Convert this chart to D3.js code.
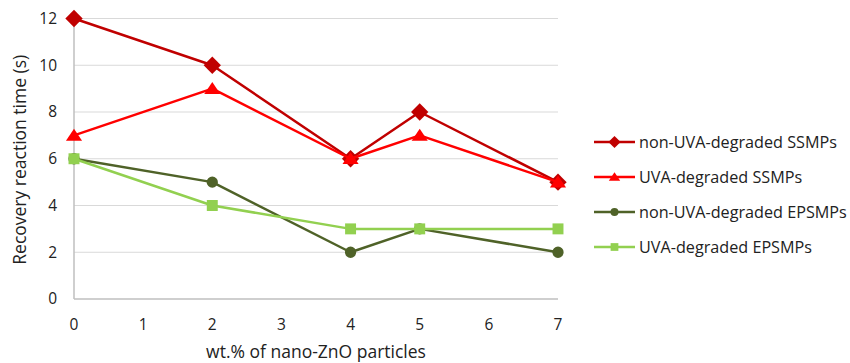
<!DOCTYPE html>
<html>
<head>
<meta charset="utf-8">
<script src="https://cdn.jsdelivr.net/npm/d3@7"></script>
<style>
  html, body { margin: 0; padding: 0; background: #fff; }
  svg text { font-family: "Open Sans", "Liberation Sans", sans-serif; fill: #222; }
</style>
</head>
<body>
<svg id="chart" width="850" height="363"></svg>
<script>
// wt.% of nano-ZnO particles
const xValues = [0, 2, 4, 5, 7];
const xTicks = [0, 1, 2, 3, 4, 5, 6, 7];
const yTicks = [0, 2, 4, 6, 8, 10, 12];

// Recovery reaction time (s) for each sample series
const seriesNames = [
  "non-UVA-degraded SSMPs",
  "UVA-degraded SSMPs",
  "non-UVA-degraded EPSMPs",
  "UVA-degraded EPSMPs"
];
const nonUvaSSMPs = [12, 10, 6, 8, 5];
const uvaSSMPs = [7, 9, 6, 7, 5];
const nonUvaEPSMPs = [6, 5, 2, 3, 2];
const uvaEPSMPs = [6, 4, 3, 3, 3];

const seriesColors = ["#C00000", "#FF0000", "#4F6228", "#92D050"];
const seriesData = [nonUvaSSMPs, uvaSSMPs, nonUvaEPSMPs, uvaEPSMPs];

// marker shapes: diamond is a square turned 45 degrees
const diamond = {
  draw(ctx, size) {
    const r = Math.sqrt(size / 2);
    ctx.moveTo(0, -r); ctx.lineTo(r, 0); ctx.lineTo(0, r); ctx.lineTo(-r, 0); ctx.closePath();
  }
};
const triangle = {
  draw(ctx, size) {
    const h = Math.sqrt(size * 0.75);
    const w = h * 1.35;
    ctx.moveTo(0, -h * 0.55); ctx.lineTo(w / 2, h * 0.45); ctx.lineTo(-w / 2, h * 0.45); ctx.closePath();
  }
};
const seriesSymbols = [diamond, triangle, d3.symbolCircle, d3.symbolSquare];
const seriesSymbolSizes = [150, 190, 100, 120];

const svg = d3.select("#chart");
const margin = { left: 74, right: 292, top: 18.5, bottom: 64 };
const width = 850, height = 363;

const x = d3.scaleLinear().domain([0, 7]).range([margin.left, width - margin.right]);
const y = d3.scaleLinear().domain([0, 12]).range([height - margin.bottom, margin.top]);

// horizontal gridlines
svg.append("g")
  .selectAll("line")
  .data(yTicks.filter(t => t > 0))
  .join("line")
  .attr("x1", x(0)).attr("x2", x(7))
  .attr("y1", d => y(d)).attr("y2", d => y(d))
  .attr("stroke", "#D9D9D9").attr("stroke-width", 1);

// axes lines
svg.append("line")
  .attr("x1", x(0)).attr("x2", x(0))
  .attr("y1", y(0)).attr("y2", y(12))
  .attr("stroke", "#BFBFBF").attr("stroke-width", 1.5);
svg.append("line")
  .attr("x1", x(0)).attr("x2", x(7))
  .attr("y1", y(0)).attr("y2", y(0))
  .attr("stroke", "#BFBFBF").attr("stroke-width", 1.5);

// y tick labels
svg.append("g")
  .selectAll("text")
  .data(yTicks)
  .join("text")
  .attr("x", x(0) - 17)
  .attr("y", d => y(d))
  .attr("dy", "0.35em")
  .attr("text-anchor", "end")
  .attr("font-size", 15.5)
  .text(d => d);

// x tick labels
svg.append("g")
  .selectAll("text")
  .data(xTicks)
  .join("text")
  .attr("x", d => x(d))
  .attr("y", 330)
  .attr("text-anchor", "middle")
  .attr("font-size", 15.5)
  .text(d => d);

// axis titles
svg.append("text")
  .attr("x", x(3.5))
  .attr("y", 358)
  .attr("text-anchor", "middle")
  .attr("font-size", 17.5)
  .text("wt.% of nano-ZnO particles");

svg.append("text")
  .attr("transform", `translate(26, ${(y(0) + y(12)) / 2 + 1}) rotate(-90)`)
  .attr("text-anchor", "middle")
  .attr("font-size", 17.5)
  .text("Recovery reaction time (s)");

// series lines and markers
const line = d3.line()
  .x((d, i) => x(xValues[i]))
  .y(d => y(d));

seriesData.forEach((vals, s) => {
  const g = svg.append("g");
  g.append("path")
    .datum(vals)
    .attr("d", line)
    .attr("fill", "none")
    .attr("stroke", seriesColors[s])
    .attr("stroke-width", 2.5)
    .attr("stroke-linejoin", "round");
  g.selectAll("path.marker")
    .data(vals)
    .join("path")
    .attr("class", "marker")
    .attr("transform", (d, i) => `translate(${x(xValues[i])},${y(d)})`)
    .attr("d", d3.symbol().type(seriesSymbols[s]).size(seriesSymbolSizes[s]))
    .attr("fill", seriesColors[s]);
});

// legend
const legendY = [142, 177, 212, 247];
const legend = svg.append("g");
seriesNames.forEach((name, s) => {
  const g = legend.append("g").attr("transform", `translate(594, ${legendY[s]})`);
  g.append("line")
    .attr("x1", 0).attr("x2", 41)
    .attr("stroke", seriesColors[s]).attr("stroke-width", 2.5);
  g.append("path")
    .attr("transform", "translate(20.5,0)")
    .attr("d", d3.symbol().type(seriesSymbols[s]).size(seriesSymbolSizes[s] * 0.5))
    .attr("fill", seriesColors[s]);
  g.append("text")
    .attr("x", 45)
    .attr("dy", "0.35em")
    .attr("font-size", 16.2)
    .text(name);
});
</script>
</body>
</html>
